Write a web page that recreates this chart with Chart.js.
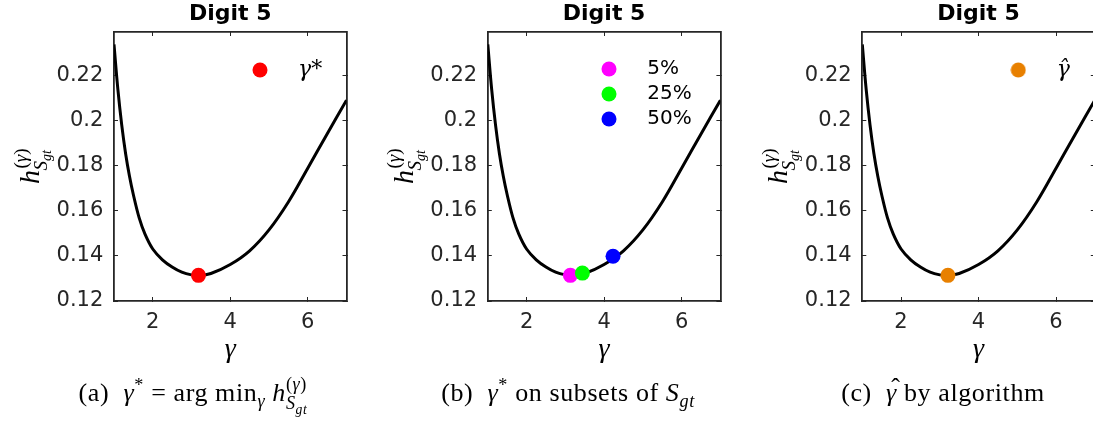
<!DOCTYPE html>
<html>
<head>
<meta charset="utf-8">
<script src="https://cdn.jsdelivr.net/npm/chart.js@4.4.1/dist/chart.umd.min.js"></script>
<style>
html,body{margin:0;padding:0;background:#fff;overflow:hidden;width:1093px;height:423px;}
.panel{position:absolute;top:0;width:360px;height:380px;}
canvas{display:block;}
.cap{position:absolute;top:378px;font-family:"Liberation Serif",serif;font-size:26px;line-height:30px;color:#000;white-space:nowrap;letter-spacing:0.6px;transform:translateX(-50%);}
.cap i{font-style:italic;}
.cap sup,.cap sub{font-size:0.7em;line-height:0;}
.cap .stk{display:inline-flex;flex-direction:column;font-size:0.7em;line-height:1.05;vertical-align:0.62em;margin:-6px 0;}
.cap .stk sub{font-size:0.75em;}
.cap .hat{position:relative;display:inline-block;}
.cap .hat .hc{position:absolute;left:0.2em;top:-0.18em;font-style:normal;}
</style>
</head>
<body>
<div class="panel" style="left:0px"><canvas id="c1" width="360" height="380"></canvas></div>
<div class="panel" style="left:370px"><canvas id="c2" width="360" height="380"></canvas></div>
<div class="panel" style="left:745px"><canvas id="c3" width="360" height="380"></canvas></div>

<div class="cap" style="left:193px">(a)&nbsp; <i>γ</i><sup>*</sup> = arg min<sub><i>γ</i></sub> <i>h</i><span class="stk"><span>(<i>γ</i>)</span><span><i>S</i><sub><i>gt</i></sub></span></span></div>
<div class="cap" style="left:568px">(b)&nbsp; <i>γ</i><sup>*</sup> on subsets of <i>S</i><sub><i>gt</i></sub></div>
<div class="cap" style="left:943px">(c)&nbsp; <span class="hat"><i>γ</i><span class="hc">ˆ</span></span> by algorithm</div>

<script>
// ---------------- data ----------------
const gammaGrid = [1.00, 1.10, 1.20, 1.30, 1.40, 1.50, 1.65, 1.80, 2.00, 2.25, 2.50, 2.75, 3.00, 3.20, 3.50, 4.00, 4.50, 5.00, 5.50, 6.00, 6.50, 7.00];
const hValues   = [0.2340, 0.2140, 0.1981, 0.1854, 0.1754, 0.1672, 0.1569, 0.1497, 0.1431, 0.1383, 0.1351, 0.1328, 0.1316, 0.1313, 0.1322, 0.1362, 0.1423, 0.1516, 0.1640, 0.1790, 0.1942, 0.2092];

const xRange = [1, 7];
const yRange = [0.12, 0.2395];
const xTicks = [2, 4, 6];
const xTickLabels = ['2', '4', '6'];
const yTicks = [0.12, 0.14, 0.16, 0.18, 0.20, 0.22];
const yTickLabels = ['0.12', '0.14', '0.16', '0.18', '0.2', '0.22'];

const panelTitle = 'Digit 5';
const xAxisTitle = 'γ';
const yLabelMain = 'h';
const yLabelSup = ['(', 'γ', ')'];
const yLabelSub = 'S';
const yLabelSubSub = 'gt';

// panel (a): gamma* = argmin
const optLabels = ['γ*'];
const optGamma = [3.18];
const optH = [0.1314];
const optColors = ['#ff0000'];

// panel (b): gamma* on subsets
const subsetLabels = ['5%', '25%', '50%'];
const subsetGamma = [3.13, 3.44, 4.23];
const subsetH = [0.1314, 0.1324, 0.1399];
const subsetColors = ['#ff00ff', '#00ff00', '#0000ff'];

// panel (c): gamma-hat by algorithm
const algLabels = ['γ̂'];
const algGamma = [3.21];
const algH = [0.1314];
const algColors = ['#e88000'];

// ---------------- helpers ----------------
const AX = '#262626';
const CW = 360, CH = 380;

function dot(color) {
  const c = document.createElement('canvas');
  c.width = 16; c.height = 16;
  const g = c.getContext('2d');
  g.fillStyle = color;
  g.beginPath(); g.arc(8, 8, 7.5, 0, Math.PI * 2); g.fill();
  return c;
}

const legendPlacement = {
  id: 'legendPlacement',
  afterLayout(chart, args, o) {
    const lg = chart.legend;
    if (!lg || !o || o.dx === undefined) return;
    const ca = chart.chartArea;
    const left = ca.left + o.dx - o.pad - o.w / 2;
    const top = o.y - o.pad - o.fs / 2;
    lg.left = left; lg.top = top; lg.right = left + 220; lg.bottom = top + 200;
    lg.width = 220; lg.height = 200;
  }
};

const yLabelPlugin = {
  id: 'yLabel',
  afterDraw(chart, args, o) {
    const {ctx, chartArea: ca} = chart;
    const F = '"Liberation Serif", serif';
    const fnt = (style, size) => (style ? style + ' ' : '') + size + 'px ' + F;
    const wOf = (t, style, size) => { ctx.font = fnt(style, size); return ctx.measureText(t).width; };
    ctx.save();
    ctx.translate(ca.left + o.dx, (ca.top + ca.bottom) / 2);
    ctx.rotate(-Math.PI / 2);
    ctx.fillStyle = '#000';
    ctx.textBaseline = 'alphabetic';
    ctx.textAlign = 'left';
    const mainS = 28, supS = 19, subS = 19, ssS = 14;
    const wH = wOf(yLabelMain, 'italic', mainS);
    const supStyles = ['', 'italic', ''];
    let wSup = 0;
    yLabelSup.forEach((t, i) => { wSup += wOf(t, supStyles[i], supS); });
    const wS = wOf(yLabelSub, 'italic', subS);
    const wSub = wS + wOf(yLabelSubSub, 'italic', ssS);
    const total = wH + Math.max(wSup + 1, wSub);
    let x = -total / 2;
    ctx.font = fnt('italic', mainS);
    ctx.fillText(yLabelMain, x, 0);
    let sx = x + wH + 1.5;
    yLabelSup.forEach((t, i) => {
      ctx.font = fnt(supStyles[i], supS);
      ctx.fillText(t, sx, -12.5);
      sx += ctx.measureText(t).width;
    });
    let bx = x + wH - 0.5;
    ctx.font = fnt('italic', subS);
    ctx.fillText(yLabelSub, bx, 8);
    bx += wS;
    ctx.font = fnt('italic', ssS);
    ctx.fillText(yLabelSubSub, bx, 12);
    ctx.restore();
  }
};

function makeScales(area) {
  const grid = {drawOnChartArea: false, drawTicks: true, tickLength: -4, color: AX, lineWidth: 1};
  const border = {display: true, color: AX, width: 1.8};
  const setX = s => { s.ticks = xTicks.map(v => ({value: v})); };
  const setY = s => { s.ticks = yTicks.map(v => ({value: v})); };
  const tickFont = {family: 'DejaVu Sans', size: 21, lineHeight: 1.2};
  const titleH = 22 * 1.28;
  return {
    x: {
      type: 'linear', axis: 'x', position: 'bottom', min: xRange[0], max: xRange[1],
      grid, border, afterBuildTicks: setX,
      ticks: {color: AX, font: tickFont, padding: 13.4, maxRotation: 0, autoSkip: false,
              callback: (v, i) => xTickLabels[i]},
      title: {display: true, text: xAxisTitle, color: '#000',
              font: {family: 'Liberation Serif', style: 'italic', size: 28, lineHeight: 1},
              padding: {top: 0, bottom: 16}},
      afterFit: s => { s.height = CH - area.bottom; }
    },
    xTop: {
      type: 'linear', axis: 'x', position: 'top', min: xRange[0], max: xRange[1],
      grid, border, afterBuildTicks: setX, ticks: {display: false},
      afterFit: s => { s.height = area.top - titleH; }
    },
    y: {
      type: 'linear', axis: 'y', position: 'left', min: yRange[0], max: yRange[1],
      grid, border, afterBuildTicks: setY,
      ticks: {color: AX, font: tickFont, padding: 14.7, autoSkip: false,
              callback: (v, i) => yTickLabels[i]},
      afterFit: s => { s.width = area.left; }
    },
    yRight: {
      type: 'linear', axis: 'y', position: 'right', min: yRange[0], max: yRange[1],
      grid, border, afterBuildTicks: setY, ticks: {display: false},
      afterFit: s => { s.width = CW - area.right; }
    }
  };
}

function makePanel(id, area, labels, gs, hs, colors, leg) {
  const datasets = [{
    data: gammaGrid.map((g, i) => ({x: g, y: hValues[i]})),
    showLine: true, pointRadius: 0, borderColor: '#000', backgroundColor: '#000',
    borderWidth: 3, tension: 0.35, order: 10
  }];
  labels.forEach((lab, i) => {
    datasets.push({
      label: lab,
      data: [{x: gs[i], y: hs[i]}],
      pointRadius: 7.5, pointHoverRadius: 7.5, pointBorderWidth: 0, borderWidth: 0,
      backgroundColor: colors[i], pointBackgroundColor: colors[i], borderColor: colors[i],
      order: labels.length - i
    });
  });
  const w = 2 * (leg.gap - leg.fs / 2);
  return new Chart(document.getElementById(id), {
    type: 'scatter',
    data: {datasets},
    options: {
      responsive: false, animation: false, devicePixelRatio: 1,
      layout: {padding: 0},
      events: [],
      scales: makeScales(area),
      plugins: {
        tooltip: {enabled: false},
        title: {display: true, text: panelTitle, fullSize: false, color: '#000', align: 'center',
                font: {family: 'DejaVu Sans', weight: 'bold', size: 22, lineHeight: 1.28},
                padding: {top: 0, bottom: 0}},
        legend: {
          display: true, position: 'chartArea', align: 'start',
          labels: {
            usePointStyle: true, pointStyleWidth: w, padding: 5, color: '#000',
            font: leg.font,
            filter: it => !!it.text,
            sort: (a, b) => a.datasetIndex - b.datasetIndex,
            generateLabels: chart => Chart.defaults.plugins.legend.labels.generateLabels(chart)
              .map(it => Object.assign(it, {pointStyle: dot(it.fillStyle)}))
          }
        },
        legendPlacement: {dx: leg.dx, y: leg.y, pad: 5, w: w, fs: leg.fs},
        yLabel: {dx: -75}
      }
    },
    plugins: [legendPlacement, yLabelPlugin]
  });
}

const mathLegendFont = {family: 'DejaVu Serif', style: 'italic', size: 22};
const sansLegendFont = {family: 'DejaVu Sans', size: 20};

makePanel('c1', {left: 114, right: 346.5, top: 32, bottom: 301},
  optLabels, optGamma, optH, optColors,
  {dx: 146, y: 70, gap: 38, fs: 22, font: mathLegendFont});
makePanel('c2', {left: 117.8, right: 350.4, top: 32, bottom: 301},
  subsetLabels, subsetGamma, subsetH, subsetColors,
  {dx: 121.2, y: 69, gap: 38.3, fs: 20, font: sansLegendFont});
makePanel('c3', {left: 117.3, right: 349.8, top: 32, bottom: 301},
  algLabels, algGamma, algH, algColors,
  {dx: 156, y: 70, gap: 38.4, fs: 22, font: mathLegendFont});
</script>
</body>
</html>
